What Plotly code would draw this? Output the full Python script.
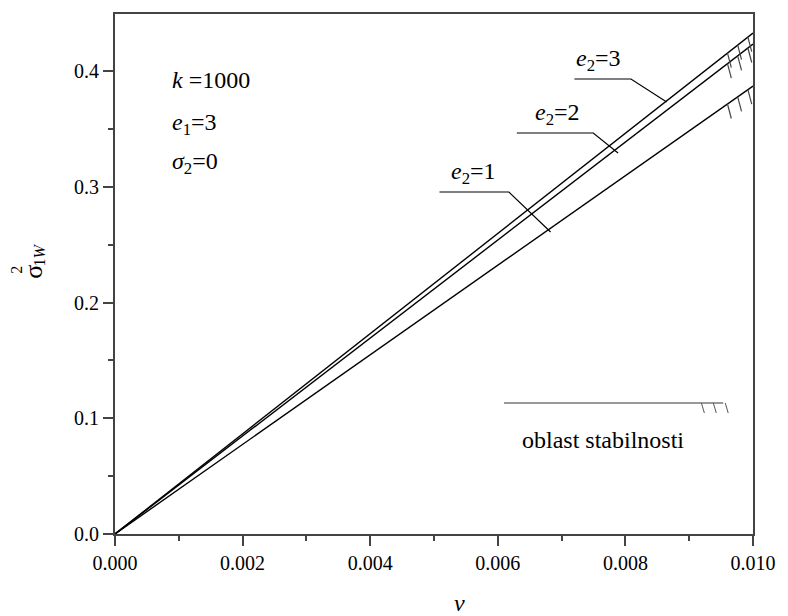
import numpy as np
import plotly.graph_objects as go

# Stability boundaries sigma_1W^2(nu), k=1000, e1=3, sigma2=0
nu = [0.0, 0.0025, 0.005, 0.0075, 0.010]
e2_values = ["1", "2", "3"]
sig_e1 = [0.0, 0.0968, 0.1935, 0.2903, 0.3870]
sig_e2 = [0.0, 0.1058, 0.2116, 0.3175, 0.4233]
sig_e3 = [0.0, 0.1082, 0.2164, 0.3246, 0.4328]
series = [sig_e1, sig_e2, sig_e3]

x_ticks = [0.000, 0.002, 0.004, 0.006, 0.008, 0.010]
y_ticks = [0.0, 0.1, 0.2, 0.3, 0.4]

# hatch positions along each curve (nu values)
hatch_nu = [0.00960, 0.00976, 0.00992]

FONT = "Liberation Serif"
W, H = 788, 616
L, R, T, B = 115, 30, 14, 82
PW, PH = W - L - R, H - T - B
XR = [0.0, 0.010]
YR = [0.0, 0.4493]

def px(xp):
    return (xp - L) / PW

def py(yp):
    return (H - B - yp) / PH

def to_data(xp, yp):
    return (XR[0] + (xp - L) / PW * (XR[1] - XR[0]),
            YR[0] + (H - B - yp) / PH * (YR[1] - YR[0]))

def text_ann(xp, yp, text, size, xanchor="center", yanchor="middle", angle=0):
    return dict(xref="paper", yref="paper", x=px(xp), y=py(yp),
                xanchor=xanchor, yanchor=yanchor, textangle=angle,
                text=text, showarrow=False,
                font=dict(family=FONT, size=size, color="black"))

fig = go.Figure()
for s in series:
    fig.add_trace(go.Scatter(x=nu, y=s, mode="lines",
                             line=dict(color="black", width=1.4),
                             showlegend=False, hoverinfo="skip"))

shapes = []
# hatch marks on the unstable side of each curve
dxn = 0.00006
dyv = 0.0125
for s in series:
    for hn in hatch_nu:
        yv = float(np.interp(hn, nu, s))
        shapes.append(dict(type="line", xref="x", yref="y",
                           x0=hn, y0=yv, x1=hn + dxn, y1=yv - dyv,
                           line=dict(color="#444", width=1.2)))

# label leader lines (pixel layout -> data)
leaders = [
    ((442, 192), (512, 192), (554, 232)),
    ((520, 133), (597, 133), (622, 153)),
    ((578, 79), (635, 79), (671, 102)),
]
for a, b, c in leaders:
    pts = [to_data(*a), to_data(*b), to_data(*c)]
    fig.add_trace(go.Scatter(x=[p[0] for p in pts], y=[p[1] for p in pts],
                             mode="lines", line=dict(color="black", width=1.2),
                             showlegend=False, hoverinfo="skip"))

label_pos = [(452, 190), (536, 131), (578, 77)]
ann = []
for (xp, yp), name in zip(label_pos, e2_values):
    ann.append(text_ann(xp, yp, "<i>e</i><sub>2</sub>=" + name, 24,
                        xanchor="left", yanchor="bottom"))

# parameters block
for txt, yp in [("<i>k</i> =1000", 80), ("<i>e</i><sub>1</sub>=3", 124),
                ("<i>σ</i><sub>2</sub>=0", 163)]:
    ann.append(text_ann(170, yp, txt, 24, xanchor="left"))

# stability region legend
a0 = to_data(507, 403)
a1 = to_data(728, 403)
shapes.append(dict(type="line", xref="x", yref="y", x0=a0[0], y0=a0[1],
                   x1=a1[0], y1=a1[1], line=dict(color="#777", width=1.5)))
for hx in [706, 718, 730]:
    p0 = to_data(hx, 403)
    p1 = to_data(hx + 3, 413)
    shapes.append(dict(type="line", xref="x", yref="y", x0=p0[0], y0=p0[1],
                       x1=p1[0], y1=p1[1], line=dict(color="#555", width=1)))
ann.append(text_ann(607, 440, "oblast stabilnosti", 24))

# axis titles
ann.append(text_ann(462, 603, "<i>ν</i>", 24))
ann.append(text_ann(32, 272, "σ", 26, angle=-90))
ann.append(text_ann(15, 270, "2", 16, angle=-90))
ann.append(text_ann(38, 255, "1<i>W</i>", 16, angle=-90))

axis_common = dict(showgrid=False, zeroline=False, showline=True,
                   linecolor="#444", linewidth=2, mirror=True,
                   ticks="outside", ticklen=10, tickwidth=1.5, tickcolor="#444",
                   tickfont=dict(family=FONT, size=20, color="black"))

fig.update_layout(
    width=W, height=H,
    margin=dict(l=L, r=R, t=T, b=B),
    plot_bgcolor="white", paper_bgcolor="white",
    xaxis=dict(range=XR, tickvals=x_ticks,
               ticktext=[f"{v:.3f}" for v in x_ticks],
               minor=dict(dtick=0.001, ticks="outside", ticklen=5,
                          tickcolor="#444"),
               **axis_common),
    yaxis=dict(range=YR, tickvals=y_ticks,
               ticktext=[f"{v:.1f}" for v in y_ticks],
               minor=dict(dtick=0.05, ticks="outside", ticklen=5,
                          tickcolor="#444"),
               **axis_common),
    shapes=shapes, annotations=ann,
)

fig.write_html("out.html")
